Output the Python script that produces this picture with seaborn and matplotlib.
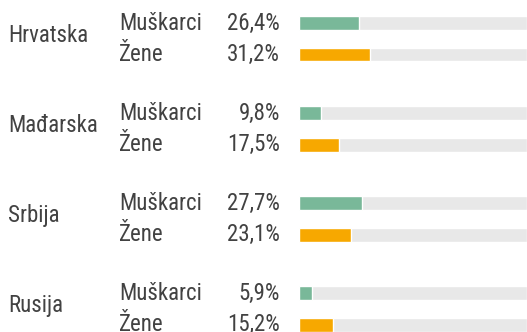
import matplotlib
matplotlib.use("Agg")
import matplotlib.pyplot as plt
import matplotlib.transforms as mtransforms
import pandas as pd
import seaborn as sns

# Share of people per country and gender (percent)
countries = ["Hrvatska", "Mađarska", "Srbija", "Rusija"]
genders = ["Muškarci", "Žene"]
men = [26.4, 9.8, 27.7, 5.9]
women = [31.2, 17.5, 23.1, 15.2]
value_labels_men = ["26,4%", "9,8%", "27,7%", "5,9%"]
value_labels_women = ["31,2%", "17,5%", "23,1%", "15,2%"]

GROUP_STEP = 2.86     # vertical distance between country blocks, in row units
BAR_HEIGHT = 0.44
TRACK_MAX = 100

GREEN = "#79b899"
ORANGE = "#f7a800"
TRACK = "#e8e8e8"
TEXT = "#424242"

rows = []
for gi, c in enumerate(countries):
    for ri, (g, v, lab) in enumerate(zip(genders, [men[gi], women[gi]],
                                           [value_labels_men[gi], value_labels_women[gi]])):
        rows.append({"country": c, "gender": g, "value": v, "label": lab,
                     "pos": gi * GROUP_STEP + ri, "track": TRACK_MAX})
df = pd.DataFrame(rows)

sns.set_theme(style="white")
plt.rcParams["font.family"] = ["Roboto Condensed", "Roboto", "DejaVu Sans"]

fig = plt.figure(figsize=(5.27, 3.32), dpi=100)
ax = fig.add_axes([298.6 / 527, 0, 228.4 / 527, 1])

# grey tracks spanning the full 0–100 range
sns.barplot(data=df, x="track", y="pos", orient="h", native_scale=True,
            width=BAR_HEIGHT, color=TRACK, saturation=1, ax=ax, zorder=1)
# values coloured by gender
sns.barplot(data=df, x="value", y="pos", hue="gender", orient="h", native_scale=True,
            width=BAR_HEIGHT, dodge=False, palette={"Muškarci": GREEN, "Žene": ORANGE},
            saturation=1, legend=False, ax=ax, zorder=2)

ax.set_xlim(0, TRACK_MAX)
top = -23 / 31.5
ax.set_ylim(top + 332 / 31.5, top)
ax.set_axis_off()

trans = mtransforms.blended_transform_factory(fig.transFigure, ax.transData)
fs = 16.5
for _, r in df.iterrows():
    ax.text(119 / 527, r["pos"], r["gender"], transform=trans, ha="left", va="center",
            fontsize=fs, color=TEXT)
    ax.text(280 / 527, r["pos"], r["label"], transform=trans, ha="right", va="center",
            fontsize=fs, color=TEXT)
for gi, c in enumerate(countries):
    ax.text(8 / 527, gi * GROUP_STEP + 0.4, c, transform=trans, ha="left", va="center",
            fontsize=fs, color=TEXT)

fig.savefig("out.png", dpi=100)
